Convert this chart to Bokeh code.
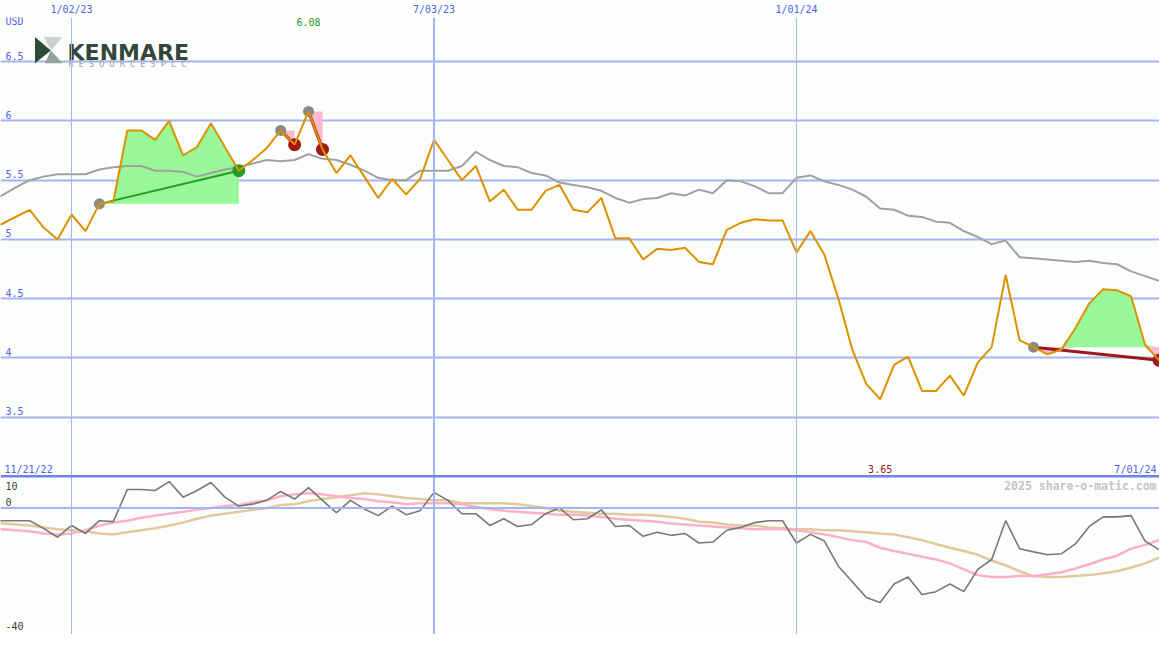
import numpy as np
import pandas as pd
from bokeh.plotting import figure
from bokeh.models import Range1d, FixedTicker, CustomJSTickFormatter, Span
from bokeh.core.properties import value
from bokeh.embed import file_html
from bokeh.resources import INLINE

# ---------------- data ----------------
start_date = "2022-11-21"
n_weeks = 85
dates = pd.date_range(start_date, periods=n_weeks, freq="7D")

price = [5.10, 5.13, 5.19, 5.25, 5.10, 5.00, 5.21, 5.07, 5.30, 5.32,
         5.92, 5.92, 5.84, 6.00, 5.71, 5.78, 5.98, 5.78, 5.58, 5.67,
         5.77, 5.92, 5.80, 6.08, 5.76, 5.56, 5.71, 5.53, 5.35, 5.51,
         5.38, 5.51, 5.84, 5.67, 5.50, 5.62, 5.32, 5.42, 5.25, 5.25,
         5.41, 5.46, 5.25, 5.23, 5.35, 5.01, 5.01, 4.83, 4.92, 4.91,
         4.93, 4.81, 4.79, 5.08, 5.14, 5.17, 5.16, 5.16, 4.89, 5.07,
         4.87, 4.50, 4.07, 3.78, 3.65, 3.94, 4.01, 3.72, 3.72, 3.85,
         3.68, 3.96, 4.09, 4.70, 4.15, 4.09, 4.03, 4.07, 4.25, 4.46,
         4.58, 4.57, 4.52, 4.11, 3.98]

price_ma = [5.31, 5.37, 5.44, 5.50, 5.53, 5.55, 5.55, 5.55, 5.59, 5.61,
            5.62, 5.62, 5.58, 5.58, 5.57, 5.53, 5.56, 5.59, 5.61, 5.64,
            5.67, 5.66, 5.67, 5.72, 5.68, 5.67, 5.63, 5.58, 5.52, 5.50,
            5.50, 5.58, 5.58, 5.58, 5.62, 5.74, 5.67, 5.62, 5.61, 5.56,
            5.54, 5.48, 5.46, 5.44, 5.41, 5.35, 5.31, 5.34, 5.35, 5.39,
            5.37, 5.42, 5.39, 5.50, 5.49, 5.45, 5.39, 5.39, 5.52, 5.54,
            5.49, 5.46, 5.42, 5.36, 5.26, 5.25, 5.20, 5.19, 5.15, 5.14,
            5.07, 5.02, 4.96, 4.99, 4.85, 4.84, 4.83, 4.82, 4.81, 4.82,
            4.80, 4.79, 4.73, 4.69, 4.65]

momentum = [-4.0, -4.0, -4.0, -4.0, -6.4, -9.2, -5.5, -8.0, -4.0, -4.3,
            5.8, 5.8, 5.5, 8.3, 3.4, 5.5, 8.0, 3.4, 0.6, 1.2,
            2.4, 5.2, 2.8, 6.4, 2.4, -1.5, 2.4, -0.3, -2.4, 0.6,
            -2.1, -0.9, 4.9, 2.4, -1.8, -1.8, -5.5, -3.4, -5.8, -5.2,
            -1.8, 0.0, -3.7, -3.4, -0.6, -5.8, -5.5, -8.9, -7.6, -8.6,
            -8.0, -11.0, -10.7, -7.0, -6.1, -4.6, -4.0, -4.0, -11.0, -8.3,
            -10.4, -18.3, -23.2, -28.1, -29.7, -23.9, -21.7, -27.2, -26.3, -23.9,
            -26.3, -19.3, -16.2, -4.0, -12.8, -13.8, -14.7, -14.4, -11.3, -5.8,
            -2.8, -2.8, -2.4, -10.4, -13.1]

signal_fast = [-6.7, -6.7, -7.0, -7.3, -8.0, -8.3, -8.0, -7.0, -5.5, -4.6,
               -4.0, -3.1, -2.4, -1.8, -1.2, -0.6, 0.0, 0.6, 0.9, 1.8,
               2.4, 3.7, 4.3, 4.6, 4.3, 3.7, 3.1, 2.8, 2.1, 1.8,
               1.2, 1.5, 1.5, 1.5, 1.2, 0.3, -0.3, -0.9, -1.2, -1.5,
               -1.8, -2.1, -2.1, -2.4, -2.8, -3.4, -3.7, -4.0, -4.3, -4.9,
               -5.2, -5.5, -5.8, -6.1, -6.4, -6.7, -6.7, -6.7, -7.0, -7.6,
               -8.3, -9.2, -10.1, -10.7, -12.5, -13.5, -14.4, -15.3, -16.2, -17.4,
               -19.3, -21.1, -21.7, -21.7, -21.4, -21.4, -20.8, -20.2, -19.0, -17.7,
               -16.2, -15.0, -12.8, -11.6, -10.1]

signal_slow = [-4.9, -4.9, -5.2, -5.5, -6.1, -6.7, -7.0, -7.3, -8.0, -8.3,
               -7.6, -7.0, -6.4, -5.5, -4.6, -3.4, -2.4, -1.8, -1.2, -0.6,
               0.0, 0.9, 1.2, 2.1, 2.8, 3.4, 4.0, 4.6, 4.3, 3.7,
               3.1, 2.8, 2.4, 2.4, 1.5, 1.5, 1.5, 1.5, 1.2, 0.6,
               0.0, -0.9, -1.2, -1.5, -1.8, -1.8, -2.1, -2.1, -2.4, -2.8,
               -3.4, -4.3, -4.6, -5.2, -5.5, -5.5, -6.1, -6.4, -6.7, -6.7,
               -7.0, -7.0, -7.3, -7.6, -8.0, -8.3, -9.2, -10.1, -11.3, -12.5,
               -13.5, -14.7, -16.5, -18.0, -19.9, -21.4, -21.7, -21.7, -21.4, -21.1,
               -20.5, -19.9, -18.7, -17.4, -15.6]

trade_entry = [8, 21, 23, 75]
trade_exit = [18, 22, 24, 84]

price_ticks = [3.5, 4.0, 4.5, 5.0, 5.5, 6.0, 6.5]
price_tick_labels = ["3.5", "4", "4.5", "5", "5.5", "6", "6.5"]
ind_tick_labels = ["10", "0", "-40"]
ind_tick_values = [10, 0, -40]
x_tick_dates = ["2023-01-02", "2023-07-03", "2024-01-01"]
x_tick_labels = ["1/02/23", "7/03/23", "1/01/24"]
x_tick_widths = [1, 2, 1]
currency = "USD"
watermark = "2025 share-o-matic.com"
company = "KENMARE"
company_sub = "R E S O U R C E S   P L C"

# ---------------- layout constants ----------------
W, H = 1159, 634
X0 = pd.Timestamp("2022-11-27 08:10")
X1 = pd.Timestamp("2024-07-01 06:00")
P_TOP, P_BOT = 6.8735, 1.6639
I_TOP, I_BOT = 154.13, -39.76

BG = "#fcfefc"
BLUE_TXT = "#5060f0"
GRID = "#a4b4f0"
SEP = "#7282e8"
MONO = "DejaVu Sans Mono"


def ms(t):
    return pd.Timestamp(t).value / 1e6


def xd(px):
    return ms(X0) + (ms(X1) - ms(X0)) * px / 1175.0


def yp(py):
    return P_TOP - (py - 16) / (650 - 16) * (P_TOP - P_BOT)


xs = [ms(d) for d in dates]

p = figure(width=W, height=H, output_backend="svg", toolbar_location=None,
           x_axis_type="datetime", x_axis_location="above", y_axis_location=None,
           x_range=Range1d(ms(X0), ms(X1)), y_range=Range1d(P_BOT, P_TOP),
           min_border=0, background_fill_color=BG, border_fill_color=BG,
           outline_line_color=None)
p.extra_y_ranges = {"ind": Range1d(I_BOT, I_TOP)}

# axis (top)
tick_ms = [ms(t) for t in x_tick_dates]
ax = p.xaxis[0]
ax.ticker = FixedTicker(ticks=tick_ms)
ax.formatter = CustomJSTickFormatter(args=dict(tvals=tick_ms, tlabels=x_tick_labels), code="""
    for (let i = 0; i < tvals.length; i++) { if (Math.abs(tvals[i] - tick) < 1) return tlabels[i]; }
    return "";
""")
ax.axis_line_color = None
ax.major_tick_line_color = None
ax.minor_tick_line_color = None
ax.major_tick_out = 0
ax.major_label_standoff = 3
ax.major_label_text_color = BLUE_TXT
ax.major_label_text_font = MONO
ax.major_label_text_font_size = "10px"

# grids
p.xgrid.grid_line_color = None
p.ygrid.ticker = FixedTicker(ticks=price_ticks)
p.ygrid.grid_line_color = GRID
p.ygrid.grid_line_width = 2
for t, w in zip(tick_ms, x_tick_widths):
    p.add_layout(Span(location=t, dimension="height", line_color=GRID, line_width=w))
p.add_layout(Span(location=3.0, dimension="width", line_color=SEP, line_width=2.5))
p.add_layout(Span(location=0, dimension="width", line_color=GRID, line_width=2, y_range_name="ind"))

# trade fills
for i, j in zip(trade_entry, trade_exit):
    base = price[i]
    seg = np.array(price[i:j + 1])
    sx = xs[i:j + 1]
    p.varea(x=sx, y1=[base] * len(sx), y2=np.maximum(seg, base), fill_color="#98f898")
    p.varea(x=sx, y1=[base] * len(sx), y2=np.minimum(seg, base), fill_color="#ffb8cc")

# moving average
p.line(xs, price_ma, line_color="#a0a0a0", line_width=2)

# trade lines & dots
for i, j in zip(trade_entry, trade_exit):
    win = price[j] >= price[i]
    col = "#22a022" if win else "#a01818"
    p.line([xs[i], xs[j]], [price[i], price[j]], line_color=col, line_width=2 if win else 3)
    p.scatter([xs[i]], [price[i]], size=11, fill_color="#888888", line_color=None)
    p.scatter([xs[j]], [price[j]], size=13, fill_color="#2a9a2a" if win else "#a01818", line_color=None)

# price
p.line(xs, price, line_color="#dc9100", line_width=2)

# indicator panel
p.line(xs, signal_slow, line_color="#e2c99c", line_width=2.5, y_range_name="ind")
p.line(xs, signal_fast, line_color="#ffb0c8", line_width=2.5, y_range_name="ind")
p.line(xs, momentum, line_color="#787878", line_width=1.6, y_range_name="ind")

# y tick labels (inside)
p.text(x=[ms(X0)] * len(price_ticks), y=price_ticks, text=price_tick_labels,
       x_offset=5, y_offset=-6, text_baseline="alphabetic", text_align="left",
       text_font=value(MONO), text_font_size="10px", text_color=BLUE_TXT)
p.text(x=[ms(X0)], y=[6.5], text=[currency], x_offset=5, y_offset=-40,
       text_baseline="alphabetic", text_font=value(MONO), text_font_size="10px", text_color=BLUE_TXT)

ind_offsets = [10, -6, -9]
for v, lab, off in zip(ind_tick_values, ind_tick_labels, ind_offsets):
    p.text(x=[ms(X0)], y=[v], text=[lab], x_offset=5, y_offset=off, y_range_name="ind",
           text_baseline="alphabetic", text_font=value(MONO), text_font_size="10px",
           text_color="#404040")

# max / min labels
imax = int(np.argmax(price))
imin = int(np.argmin(price))
p.text(x=[xs[imax]], y=[6.5], text=[f"{price[imax]:.2f}"], y_offset=-40, text_align="center",
       text_baseline="alphabetic", text_font=value(MONO), text_font_size="10px", text_color="#229922")
p.text(x=[xs[imin]], y=[3.0], text=[f"{price[imin]:.2f}"], y_offset=-7, text_align="center",
       text_baseline="alphabetic", text_font=value(MONO), text_font_size="10px", text_color="#a01818")


def fmt(d):
    return f"{d.month}/{d.day:02d}/{d.year % 100:02d}"


p.text(x=[ms(X0)], y=[3.0], text=[fmt(dates[0])], x_offset=4, y_offset=-7, text_align="left",
       text_baseline="alphabetic", text_font=value(MONO), text_font_size="10px", text_color=BLUE_TXT)
p.text(x=[ms(X1)], y=[3.0], text=[fmt(dates[-1])], x_offset=-3, y_offset=-7, text_align="right",
       text_baseline="alphabetic", text_font=value(MONO), text_font_size="10px", text_color=BLUE_TXT)

# watermark
p.text(x=[ms(X1)], y=[0], text=[watermark], x_offset=-3, y_offset=-22, y_range_name="ind",
       text_align="right", text_baseline="alphabetic", text_font=value(MONO),
       text_font_size="11.5px", text_font_style="bold", text_color="#c4c4c4")

# logo
p.patch([xd(35), xd(35), xd(51)], [yp(36), yp(63), yp(50)], fill_color="#2f4a38", line_color=None)
p.patch([xd(44), xd(63), xd(51)], [yp(36), yp(36), yp(50)], fill_color="#cdd4d0", line_color=None)
p.patch([xd(51), xd(63), xd(45)], [yp(50), yp(63), yp(63)], fill_color="#93a39b", line_color=None)
p.text(x=[xd(68)], y=[yp(52)], text=[company], text_baseline="alphabetic",
       text_font=value("DejaVu Sans"), text_font_style="bold", text_font_size="22px", text_color="#33473b")
p.text(x=[xd(69)], y=[yp(64)], text=[company_sub], text_baseline="alphabetic",
       text_font=value(MONO), text_font_size="8.5px", text_color="#9ea39e")

open("out.html", "w").write(file_html(p, INLINE))
